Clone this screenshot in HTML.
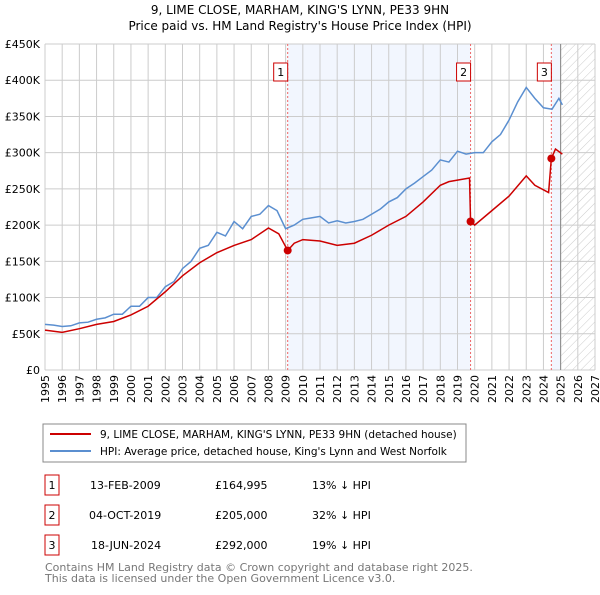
<!DOCTYPE html>
<html><head><meta charset="utf-8"><style>
body{margin:0;background:#fff;}
svg text{font-family:"DejaVu Sans","Liberation Sans",sans-serif;}
</style></head><body>
<svg id="c" width="600" height="590" xmlns="http://www.w3.org/2000/svg">
<defs><pattern id="hatch" width="6" height="6" patternUnits="userSpaceOnUse" patternTransform="rotate(45)"><line x1="0" y1="0" x2="0" y2="6" stroke="#ccc" stroke-width="1"/></pattern></defs>
<text x="300" y="14" text-anchor="middle" font-size="12">9, LIME CLOSE, MARHAM, KING'S LYNN, PE33 9HN</text>
<text x="300" y="30" text-anchor="middle" font-size="12">Price paid vs. HM Land Registry's House Price Index (HPI)</text>
<g id="plot"></g>
<rect x="43" y="424" width="423" height="38" fill="none" stroke="#888"/>
<line x1="50" y1="434" x2="91" y2="434" stroke="#cc0000" stroke-width="2"/>
<text x="100" y="438" font-size="10.5">9, LIME CLOSE, MARHAM, KING'S LYNN, PE33 9HN (detached house)</text>
<line x1="50" y1="451" x2="91" y2="451" stroke="#5b8fd0" stroke-width="2"/>
<text x="100" y="455" font-size="10.5">HPI: Average price, detached house, King's Lynn and West Norfolk</text>
<g font-size="11">
<rect x="45" y="475" width="14" height="20" fill="none" stroke="#cc0000"/><text x="52" y="489" text-anchor="middle">1</text>
<text x="90" y="489">13-FEB-2009</text><text x="215" y="489">£164,995</text><text x="312" y="489">13% ↓ HPI</text>
<rect x="45" y="505" width="14" height="20" fill="none" stroke="#cc0000"/><text x="52" y="519" text-anchor="middle">2</text>
<text x="89" y="519">04-OCT-2019</text><text x="215" y="519">£205,000</text><text x="312" y="519">32% ↓ HPI</text>
<rect x="45" y="535" width="14" height="20" fill="none" stroke="#cc0000"/><text x="52" y="549" text-anchor="middle">3</text>
<text x="91" y="549">18-JUN-2024</text><text x="215" y="549">£292,000</text><text x="312" y="549">19% ↓ HPI</text>
</g>
<text x="45" y="571" font-size="11" fill="#777">Contains HM Land Registry data © Crown copyright and database right 2025.</text>
<text x="45" y="582" font-size="11" fill="#777">This data is licensed under the Open Government Licence v3.0.</text>
</svg>
<script>
const yTicks=[0,50,100,150,200,250,300,350,400,450];
const yLabels=["£0","£50K","£100K","£150K","£200K","£250K","£300K","£350K","£400K","£450K"];
const xYears=[1995,1996,1997,1998,1999,2000,2001,2002,2003,2004,2005,2006,2007,2008,2009,2010,2011,2012,2013,2014,2015,2016,2017,2018,2019,2020,2021,2022,2023,2024,2025,2026,2027];
const hpiT=[1995,1995.5,1996,1996.5,1997,1997.5,1998,1998.5,1999,1999.5,2000,2000.5,2001,2001.5,2002,2002.5,2003,2003.5,2004,2004.5,2005,2005.5,2006,2006.5,2007,2007.5,2008,2008.5,2009,2009.5,2010,2010.5,2011,2011.5,2012,2012.5,2013,2013.5,2014,2014.5,2015,2015.5,2016,2016.5,2017,2017.5,2018,2018.5,2019,2019.5,2020,2020.5,2021,2021.5,2022,2022.5,2023,2023.5,2024,2024.5,2024.9,2025.1];
const hpiV=[63,62,60,61,65,66,70,72,77,77,88,88,100,100,115,122,140,150,168,172,190,185,205,195,212,215,227,220,195,200,208,210,212,203,206,203,205,208,215,222,232,238,250,258,267,276,290,287,302,298,300,300,315,325,345,370,390,375,362,360,375,366];
const priceT=[1995,1996,1997,1998,1999,2000,2001,2002,2003,2004,2005,2006,2007,2008,2008.6,2009.12,2009.5,2010,2011,2012,2013,2014,2015,2016,2017,2018,2018.5,2019.7,2019.76,2020,2021,2022,2023,2023.5,2024.3,2024.46,2024.7,2025.1];
const priceV=[55,52,57,63,67,76,88,108,130,148,162,172,180,196,188,165,175,180,178,172,175,186,200,212,232,255,260,265,205,200,220,240,268,255,245,292,305,298];
const saleT=[2009.12,2019.76,2024.46];
const saleV=[164.995,205,292];
const saleLabels=["1","2","3"];
const X0=45,X1=595,Y0=370,Y1=44;
const xs=t=>X0+(t-1995)/(2027-1995)*(X1-X0);
const ys=v=>Y0-v/450*(Y0-Y1);
const NS="http://www.w3.org/2000/svg";
const g=document.getElementById('plot');
function mk(tag,at){const e=document.createElementNS(NS,tag);for(const k in at)e.setAttribute(k,at[k]);g.appendChild(e);return e;}
let r=mk('rect',{x:xs(saleT[0]),y:Y1,width:xs(saleT[1])-xs(saleT[0]),height:Y0-Y1,fill:'#f2f6fe'});


r=mk('rect',{x:xs(saleT[2]),y:Y1,width:xs(2025)-xs(saleT[2]),height:Y0-Y1,fill:'#f2f6fe'});


r=mk('rect',{x:xs(2025),y:Y1,width:xs(2027)-xs(2025),height:Y0-Y1,fill:'url(#hatch)'});


yTicks.forEach((v,i)=>{
 const l=mk('line',{x1:X0,x2:X1,y1:ys(v),y2:ys(v),stroke:'#ccc'});
 
 
 const t=mk('text',{x:X0-5,y:ys(v)+4,'text-anchor':'end','font-size':'11'});t.textContent=yLabels[i];
 
 
});
xYears.forEach(y=>{
 const l=mk('line',{x1:xs(y),x2:xs(y),y1:Y1,y2:Y0,stroke:'#ccc'});
 
 
 const t=mk('text',{x:0,y:0,'text-anchor':'end','font-size':'11',transform:`translate(${xs(y)+4},${Y0+5}) rotate(-90)`});t.textContent=y;
 
 
});
let l=mk('line',{x1:xs(2025),x2:xs(2025),y1:Y1,y2:Y0,stroke:'#888'});


saleT.forEach((t,i)=>{
 const d=mk('line',{x1:xs(t),x2:xs(t),y1:Y1,y2:Y0,stroke:'#e66','stroke-dasharray':'2,2'});
 
 
 const b=mk('rect',{x:xs(t)-14,y:63,width:14,height:18,fill:'#fff',stroke:'#cc0000'});
 
 
 const tx=mk('text',{x:xs(t)-7,y:76,'text-anchor':'middle','font-size':'11'});tx.textContent=saleLabels[i];
 
 
});
let p=mk('polyline',{points:hpiT.map((t,i)=>xs(t)+','+ys(hpiV[i])).join(' '),fill:'none',stroke:'#5b8fd0','stroke-width':1.5});


p=mk('polyline',{points:priceT.map((t,i)=>xs(t)+','+ys(priceV[i])).join(' '),fill:'none',stroke:'#cc0000','stroke-width':1.5});


saleT.forEach((t,i)=>{
 const c=mk('circle',{cx:xs(t),cy:ys(saleV[i]),r:4,fill:'#cc0000'});
 
 
});
</script>
</body></html>
